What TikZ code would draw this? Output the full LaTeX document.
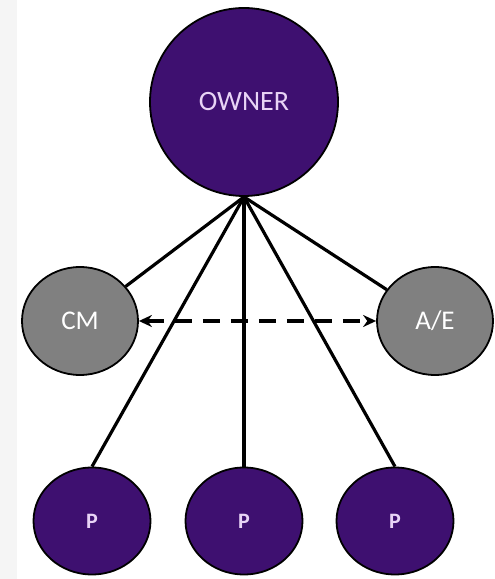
\documentclass[tikz,border=0pt]{standalone}
\usepackage{fontspec}
\setmainfont{Carlito}
\usetikzlibrary{arrows.meta,shapes.geometric}
\definecolor{deeppurple}{RGB}{62,16,112}
\definecolor{midgray}{RGB}{128,128,128}
\definecolor{lavender}{RGB}{232,212,246}
\begin{document}
\begin{tikzpicture}[x=1pt,y=1pt,
  partyblob/.style={ellipse,draw=black,line width=1.8pt,inner sep=0pt},
  ownerblob/.style={partyblob,fill=deeppurple,minimum width=188pt,minimum height=188pt,
    text=lavender,font=\fontsize{28}{28}\selectfont},
  consultant/.style={partyblob,fill=midgray,minimum width=116pt,minimum height=108pt,
    text=white,font=\fontsize{27}{27}\selectfont},
  provider/.style={partyblob,fill=deeppurple,minimum width=117pt,minimum height=107pt,
    text=lavender,font=\fontsize{22}{22}\selectfont\bfseries},
  link/.style={line width=3.2pt,black},
  coord/.style={line width=4pt,black,dash pattern=on 17pt off 11pt,
    {Stealth[length=13pt,width=12pt]}-{Stealth[length=13pt,width=12pt]}}
]
\useasboundingbox (0,0) rectangle (495,579);
\fill[white] (0,0) rectangle (495,579);
\fill[black!4] (0,0) rectangle (17,579);

% owner at the top
\node[ownerblob] (owner) at (244,477) {OWNER};

% consultants
\node[consultant] (cm) at (80,258) {CM};
\node[consultant] (ae) at (435,258) {A/E};

% providers along the bottom
\node[provider] (p1) at (92,58) {P};
\node[provider] (p2) at (244,58) {P};
\node[provider] (p3) at (395,58) {P};

% contract lines fanning out from the owner
\draw[link] (owner.south) -- (cm);
\draw[link] (owner.south) -- (ae);
\draw[link] (owner.south) -- (p1.north);
\draw[link] (owner.south) -- (p2.north);
\draw[link] (owner.south) -- (p3.north);

% coordination between CM and A/E
\draw[coord] (cm.east) -- (ae.west);
\end{tikzpicture}
\end{document}
